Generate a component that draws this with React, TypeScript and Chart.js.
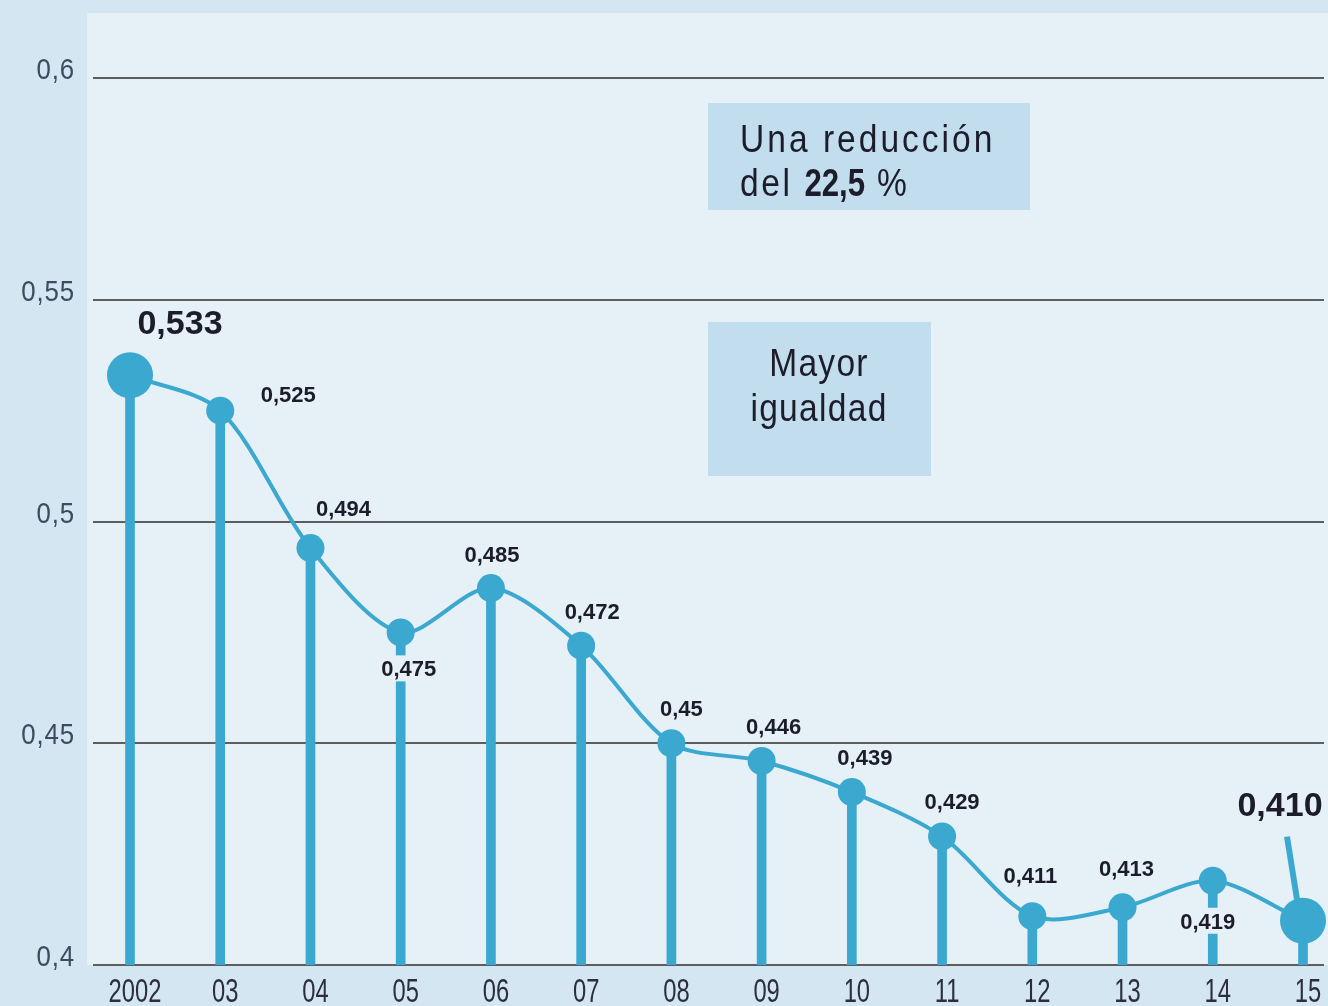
import React, { useEffect, useRef } from 'react';
import { Chart, registerables } from 'chart.js';

Chart.register(...registerables);

// ---- data ----
const years = ['2002', '03', '04', '05', '06', '07', '08', '09', '10', '11', '12', '13', '14', '15'];
const gini = [0.533, 0.525, 0.494, 0.475, 0.485, 0.472, 0.45, 0.446, 0.439, 0.429, 0.411, 0.413, 0.419, 0.41];
const valueLabels = ['0,533', '0,525', '0,494', '0,475', '0,485', '0,472', '0,45', '0,446', '0,439', '0,429', '0,411', '0,413', '0,419', '0,410'];
const yTicks = [0.4, 0.45, 0.5, 0.55, 0.6];
const yTickLabels = ['0,4', '0,45', '0,5', '0,55', '0,6'];
const boxTitleLine1 = 'Una reducción';
const boxTitleLine2 = ['del ', '22,5', ' %'];
const boxNote = ['Mayor', 'igualdad'];

// ---- style / layout ----
const OUTER = '#d3e6f2';
const PANEL = '#e5f0f7';
const BOX = '#c2ddee';
const BLUE = '#3aa8cf';
const GRID = '#5e5e5e';
const TEXT = '#1c1c2a';
const TICK = '#3f4a60';
const SANS = "'Liberation Sans', Arial, sans-serif";

const X_MIN = -0.4766;
const X_MAX = 13.277;
const Y_MIN = 0.4;
const Y_MAX = 0.61466;

const placement = [
  { dx: 50, dy: -53, big: true },
  { dx: 68, dy: -17 },
  { dx: 33, dy: -40 },
  { dx: 8, dy: 36, knock: true },
  { dx: 1, dy: -34 },
  { dx: 11, dy: -35 },
  { dx: 10, dy: -35 },
  { dx: 12, dy: -35 },
  { dx: 13, dy: -35 },
  { dx: 10, dy: -35 },
  { dx: -2, dy: -41 },
  { dx: 4, dy: -39 },
  { dx: -5, dy: 40, knock: true },
  { dx: -23, dy: -117, big: true, leader: true },
];

function drawText(
  ctx: any,
  str: string,
  x: number,
  y: number,
  font: string,
  sx: number,
  align: string,
  spacing = 0,
  color = TEXT
) {
  ctx.save();
  ctx.font = font;
  if ('letterSpacing' in ctx) ctx.letterSpacing = spacing + 'px';
  ctx.fillStyle = color;
  ctx.textAlign = align;
  ctx.textBaseline = 'alphabetic';
  ctx.translate(x, y);
  ctx.scale(sx, 1);
  ctx.fillText(str, 0, 0);
  const w = ctx.measureText(str).width * sx;
  ctx.restore();
  return w;
}

function measure(ctx: any, str: string, font: string, sx: number, spacing = 0) {
  ctx.save();
  ctx.font = font;
  if ('letterSpacing' in ctx) ctx.letterSpacing = spacing + 'px';
  const w = ctx.measureText(str).width * sx;
  ctx.restore();
  return w;
}

const decor = {
  id: 'decor',
  beforeDraw(chart: any) {
    const { ctx, chartArea: a, width, height } = chart;
    ctx.save();
    ctx.fillStyle = OUTER;
    ctx.fillRect(0, 0, width, height);
    ctx.fillStyle = PANEL;
    ctx.fillRect(a.left, a.top, a.right - a.left, a.bottom - a.top);

    // annotation boxes
    ctx.fillStyle = BOX;
    ctx.fillRect(708, 103, 322, 107);
    ctx.fillRect(708, 322, 223, 154);
    ctx.restore();

    const boxFont = '39px ' + SANS;
    const boxBold = 'bold 39px ' + SANS;
    const sx = 0.86;
    drawText(ctx, boxTitleLine1, 740, 152, boxFont, sx, 'left', 3.5);
    let x = 740;
    boxTitleLine2.forEach((part, i) => {
      x += drawText(ctx, part, x, 196, i === 1 ? boxBold : boxFont, i === 1 ? 0.8 : sx, 'left', i === 1 ? 0 : 3);
    });
    drawText(ctx, boxNote[0], 819, 376, boxFont, sx, 'center', 1.5);
    drawText(ctx, boxNote[1], 819, 421, boxFont, sx, 'center', 1.5);

    // y tick labels
    const ys = chart.scales.y;
    yTicks.forEach((v, i) => {
      const py = ys.getPixelForValue(v);
      drawText(ctx, yTickLabels[i], 75, py + 1, '30px ' + SANS, 0.86, 'right', 1, TICK);
    });
    // x tick labels
    const xs = chart.scales.x;
    years.forEach((lab, i) => {
      const px = xs.getPixelForValue(i);
      drawText(ctx, lab, px + 5, 1002, '33px ' + SANS, 0.72, 'center', 0, '#2c2e3c');
    });
  },
  beforeDatasetsDraw(chart: any) {
    const { ctx, chartArea: a } = chart;
    const y = chart.scales.y;
    ctx.save();
    ctx.strokeStyle = GRID;
    ctx.lineWidth = 2;
    yTicks.forEach((v) => {
      const py = Math.round(y.getPixelForValue(v));
      ctx.beginPath();
      ctx.moveTo(a.left + 6, py);
      ctx.lineTo(a.right - 4, py);
      ctx.stroke();
    });
    // leader line for last value
    const meta = chart.getDatasetMeta(1);
    placement.forEach((p, i) => {
      if (!p.leader) return;
      const pt = meta.data[i];
      ctx.strokeStyle = BLUE;
      ctx.lineWidth = 6;
      ctx.beginPath();
      ctx.moveTo(pt.x - 16, pt.y - 84);
      ctx.lineTo(pt.x - 5, pt.y - 15);
      ctx.stroke();
    });
    ctx.restore();
  },
  afterDatasetsDraw(chart: any) {
    const { ctx } = chart;
    const meta = chart.getDatasetMeta(1);
    placement.forEach((p, i) => {
      const pt = meta.data[i];
      if (!pt) return;
      const cx = pt.x + p.dx;
      const cy = pt.y + p.dy;
      const font = p.big ? 'bold 34px ' + SANS : 'bold 22px ' + SANS;
      const cap = p.big ? 24 : 16;
      const w = measure(ctx, valueLabels[i], font, 1);
      if (p.knock) {
        ctx.save();
        ctx.fillStyle = PANEL;
        ctx.fillRect(cx - w / 2 - 4, cy - 13, w + 8, 26);
        ctx.restore();
      }
      drawText(ctx, valueLabels[i], cx, cy + cap / 2, font, 1, 'center', 0, TEXT);
    });
  },
};

export default function App() {
  const ref = useRef<HTMLCanvasElement>(null);

  useEffect(() => {
    const points = gini.map((v, i) => ({ x: i, y: v }));
    const radii = gini.map((_, i) => (i === 0 || i === gini.length - 1 ? 23 : 14));
    const chart = new Chart(ref.current as HTMLCanvasElement, {
      type: 'bar',
      data: {
        datasets: [
          {
            type: 'bar',
            data: points,
            backgroundColor: BLUE,
            borderWidth: 0,
            barThickness: 9,
            order: 2,
          } as any,
          {
            type: 'line',
            data: points,
            borderColor: BLUE,
            borderWidth: 4,
            backgroundColor: BLUE,
            pointBackgroundColor: BLUE,
            pointBorderWidth: 0,
            pointRadius: radii,
            tension: 0.3,
            fill: false,
            clip: false,
            order: 1,
          } as any,
        ],
      },
      options: {
        animation: false,
        responsive: false,
        maintainAspectRatio: false,
        layout: { autoPadding: false, padding: { top: 13, left: 0, right: 0, bottom: 0 } },
        plugins: { legend: { display: false }, tooltip: { enabled: false } },
        scales: {
          x: {
            type: 'linear',
            min: X_MIN,
            max: X_MAX,
            offset: false,
            grid: { display: false, drawTicks: false },
            border: { display: false },
            ticks: { display: false, stepSize: 1 },
            afterFit: (s: any) => {
              s.height = 41;
            },
          },
          y: {
            min: Y_MIN,
            max: Y_MAX,
            grid: { display: false, drawTicks: false },
            border: { display: false },
            ticks: { display: false, stepSize: 0.05 },
            afterFit: (s: any) => {
              s.width = 87;
            },
          },
        },
      } as any,
      plugins: [decor],
    });
    return () => chart.destroy();
  }, []);

  return (
    <div style={{ position: 'absolute', left: 0, top: 0, width: 1328, height: 1006 }}>
      <canvas ref={ref} width={1328} height={1006} style={{ display: 'block', width: 1328, height: 1006 }} />
    </div>
  );
}
